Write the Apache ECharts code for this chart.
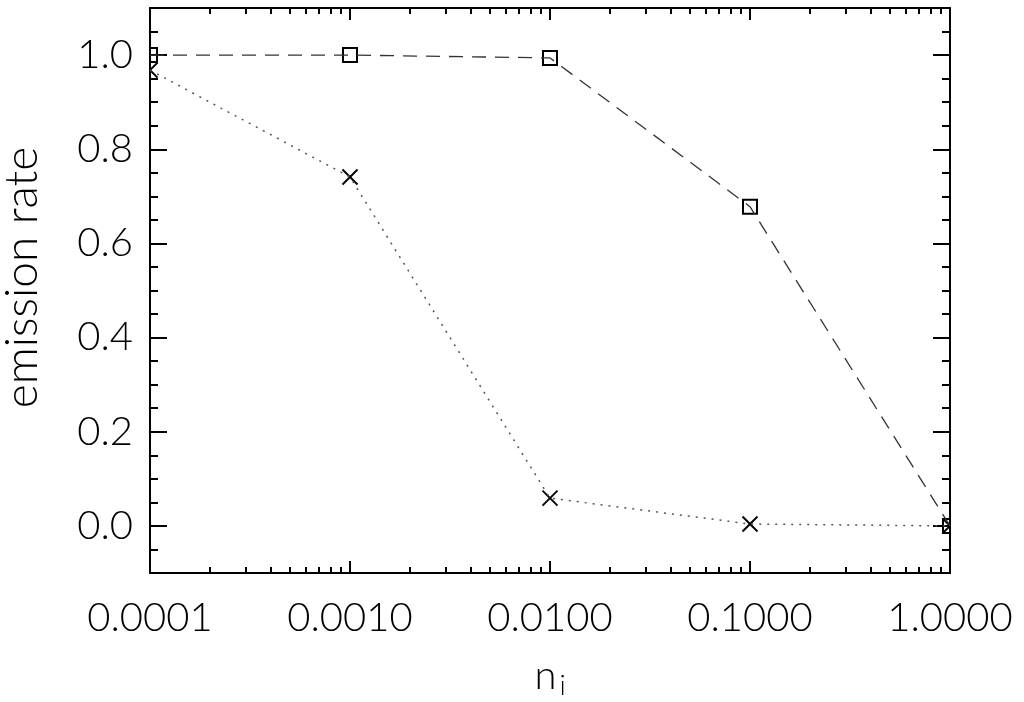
<!DOCTYPE html>
<html><head><meta charset="utf-8">
<script src="https://cdn.jsdelivr.net/npm/echarts@6/dist/echarts.min.js"></script>
<style>html,body{margin:0;padding:0;background:#fff}#c{width:1024px;height:702px}</style>
</head><body><div id="c"></div>
<script>
const nValues = [0.0001, 0.001, 0.01, 0.1, 1.0];
const squareRates = [1.0, 1.0, 0.994, 0.678, 0.0];
const crossRates = [0.968, 0.741, 0.059, 0.004, 0.0];
const xMajorTicks = [0.0001, 0.001, 0.01, 0.1, 1];
const xMinorTicks = [0.0002,0.0003,0.0004,0.0005,0.0006,0.0007,0.0008,0.0009,
  0.002,0.003,0.004,0.005,0.006,0.007,0.008,0.009,
  0.02,0.03,0.04,0.05,0.06,0.07,0.08,0.09,
  0.2,0.3,0.4,0.5,0.6,0.7,0.8,0.9];
const yMajorTicks = [0, 0.2, 0.4, 0.6, 0.8, 1.0];
const yMinorTicks = [-0.05,0.05,0.1,0.15,0.25,0.3,0.35,0.45,0.5,0.55,0.65,0.7,0.75,0.85,0.9,0.95,1.05];

const FONT = "'Lato Light', 'Open Sans Light', 'Roboto Light', 'DejaVu Sans', sans-serif";
const squareData = nValues.map((x, i) => [x, squareRates[i]]);
const crossData = nValues.map((x, i) => [x, crossRates[i]]);

function xAxisDef(pos, ticks, len, showLine, showLabel) {
  return {
    type: 'log', min: 0.0001, max: 1, position: pos, gridIndex: 0,
    axisLine: {show: showLine, onZero: false, lineStyle: {color: '#000', width: 2}},
    axisTick: {show: true, inside: true, length: len, customValues: ticks, lineStyle: {color: '#000', width: 2}},
    axisLabel: showLabel ? {show: true, customValues: xMajorTicks, margin: 25, color: '#000', fontSize: 40, fontFamily: FONT,
      formatter: v => Number(v).toFixed(4)} : {show: false},
    splitLine: {show: false}, minorTick: {show: false}
  };
}
function yAxisDef(pos, ticks, len, showLine, showLabel) {
  return {
    type: 'value', min: -0.1, max: 1.1, position: pos, gridIndex: 0,
    axisLine: {show: showLine, onZero: false, lineStyle: {color: '#000', width: 2}},
    axisTick: {show: true, inside: true, length: len, customValues: ticks, lineStyle: {color: '#000', width: 2}},
    axisLabel: showLabel ? {show: true, customValues: yMajorTicks, margin: 17, color: '#000', fontSize: 40, fontFamily: FONT,
      formatter: v => Number(v).toFixed(1)} : {show: false},
    splitLine: {show: false}, minorTick: {show: false}
  };
}

const xAxes = [
  xAxisDef('bottom', xMajorTicks, 12, true, true),
  xAxisDef('bottom', xMinorTicks, 6, false, false),
  xAxisDef('top', xMajorTicks, 12, true, false),
  xAxisDef('top', xMinorTicks, 6, false, false)
];
xAxes[0].name = 'n{s|i}';
xAxes[0].nameLocation = 'middle';
xAxes[0].nameGap = 79;
xAxes[0].nameTextStyle = {color: '#000', fontSize: 40, fontFamily: FONT,
  rich: {s: {fontSize: 28, fontFamily: FONT, color: '#000', padding: [20, 0, 0, 3]}}};

const yAxes = [
  yAxisDef('left', yMajorTicks, 17, true, true),
  yAxisDef('left', yMinorTicks, 8, false, false),
  yAxisDef('right', yMajorTicks, 17, true, false),
  yAxisDef('right', yMinorTicks, 8, false, false)
];
yAxes[0].name = 'emission rate';
yAxes[0].nameLocation = 'middle';
yAxes[0].nameGap = 105;
yAxes[0].nameTextStyle = {color: '#000', fontSize: 46, fontFamily: FONT, padding: [0, 0, 0, 26]};

const chart = echarts.init(document.getElementById('c'), null, {renderer: 'canvas'});
chart.setOption({
  backgroundColor: '#ffffff',
  animation: false,
  grid: {left: 150, right: 74, top: 8, bottom: 129, containLabel: false, outerBoundsMode: 'none'},
  xAxis: xAxes,
  yAxis: yAxes,
  series: [
    {type: 'line', data: squareData, xAxisIndex: 0, yAxisIndex: 0, symbol: 'none', clip: true,
     lineStyle: {color: '#333', width: 1.3, type: [14, 9]}},
    {type: 'line', data: crossData, xAxisIndex: 0, yAxisIndex: 0, symbol: 'none', clip: true,
     lineStyle: {color: '#555', width: 1.5, type: [2, 6]}},
    {type: 'custom', data: squareData, xAxisIndex: 0, yAxisIndex: 0, clip: true, encode: {x: 0, y: 1},
     renderItem: (params, api) => {
       const p = api.coord([api.value(0), api.value(1)]);
       return {type: 'rect', shape: {x: p[0] - 7, y: p[1] - 7, width: 14, height: 14},
               style: {fill: 'none', stroke: '#000', lineWidth: 2}};
     }},
    {type: 'custom', data: crossData, xAxisIndex: 0, yAxisIndex: 0, clip: true, encode: {x: 0, y: 1},
     renderItem: (params, api) => {
       const p = api.coord([api.value(0), api.value(1)]);
       const h = 7.5;
       return {type: 'group', children: [
         {type: 'line', shape: {x1: p[0] - h, y1: p[1] - h, x2: p[0] + h, y2: p[1] + h}, style: {stroke: '#000', lineWidth: 2}},
         {type: 'line', shape: {x1: p[0] - h, y1: p[1] + h, x2: p[0] + h, y2: p[1] - h}, style: {stroke: '#000', lineWidth: 2}}
       ]};
     }}
  ]
});
</script>
</body></html>
